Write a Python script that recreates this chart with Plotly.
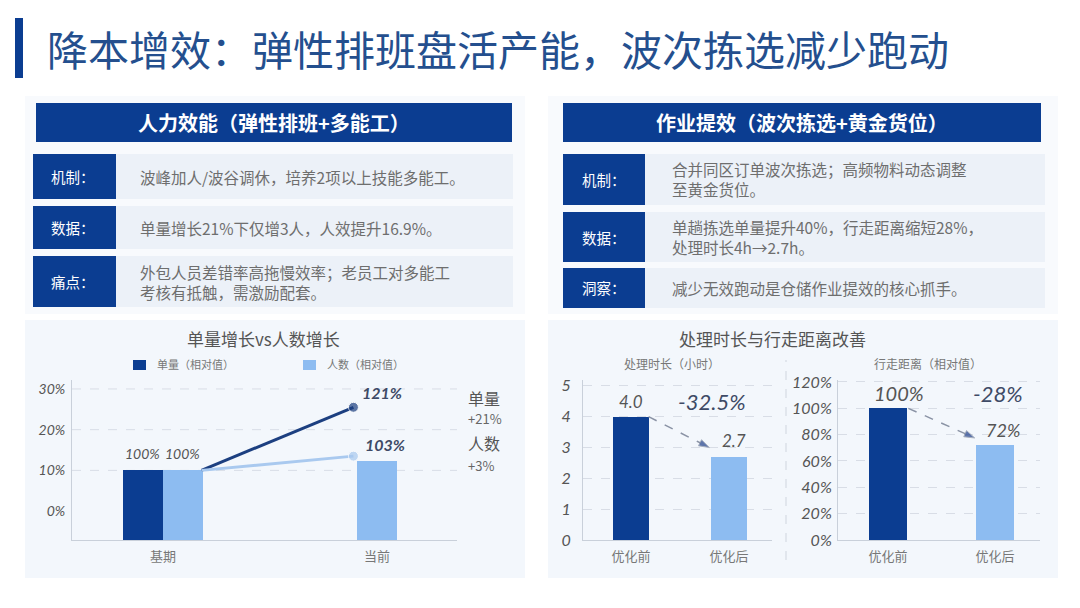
import plotly.graph_objects as go

W, H = 1080, 608
NAVY = '#0b3d91'
LIGHT = '#8dbcf1'
LINE_LIGHT = '#a9c9ef'
CJK = 'Noto Sans CJK SC'
HAND = 'Lato'
NUM = '#3e4a66'

# ------------------------------- data -------------------------------#
page_title = '降本增效：弹性排班盘活产能，波次拣选减少跑动'

left_header = '人力效能（弹性排班+多能工）'
left_tags = ['机制：', '数据：', '痛点：']
left_texts = ['波峰加人/波谷调休，培养2项以上技能多能工。',
              '单量增长21%下仅增3人，人效提升16.9%。',
              '外包人员差错率高拖慢效率；老员工对多能工<br>考核有抵触，需激励配套。']

right_header = '作业提效（波次拣选+黄金货位）'
right_tags = ['机制：', '数据：', '洞察：']
right_texts = ['合并同区订单波次拣选；高频物料动态调整<br>至黄金货位。',
               '单趟拣选单量提升40%，行走距离缩短28%，<br>处理时长4h→2.7h。',
               '减少无效跑动是仓储作业提效的核心抓手。']

# left chart (heights read on the drawn % scale)
periods = ['基期', '当前']
vol_bar = [10.0]
staff_bar = [10.0, 12.2]
line_x = [0.18, 0.89]
vol_line = [10.0, 25.5]
staff_line = [10.0, 13.5]
vol_pct = [100, 121]
staff_pct = [100, 103]
left_ticks = [0, 10, 20, 30]
left_grid = [10, 20, 30]
left_floor = -7.1

# right charts
stages = ['优化前', '优化后']
hours = [4.0, 2.7]
distance = [100, 72]
hour_ticks = [0, 1, 2, 3, 4, 5]
dist_ticks = [0, 20, 40, 60, 80, 100, 120]
hours_arrow_x = [0.18, 0.80]
hours_arrow_y = [4.0, 3.0]
dist_arrow_x = [0.19, 0.81]
dist_arrow_y = [100, 77.5]


def X(p):
    return p / W


def Y(p):
    return 1 - p / H


shapes = []
annotations = []


def rect(x0, y0, x1, y1, color):
    shapes.append(dict(type='rect', xref='paper', yref='paper',
                       x0=X(x0), x1=X(x1), y0=Y(y1), y1=Y(y0),
                       fillcolor=color, line_width=0, layer='below'))


def text(x, y, s, size, color, anchor='center', bold=False, family=CJK,
         italic=False, xref='paper', yref='paper', xshift=0, yshift=0):
    if xref == 'paper':
        x = X(x)
    if yref == 'paper':
        y = Y(y)
    annotations.append(dict(xref=xref, yref=yref, x=x, y=y, text=s, showarrow=False,
                            xanchor=anchor, yanchor='middle', align='left',
                            xshift=xshift, yshift=yshift,
                            font=dict(family=family, size=size, color=color,
                                      weight='bold' if bold else 'normal',
                                      style='italic' if italic else 'normal')))


# ------------------------------- page frame -------------------------------#
rect(15, 18, 23, 78, NAVY)
text(45, 48, page_title, 41, '#244f8e', anchor='left')

rect(25, 96, 525, 314, '#f8fafd')
rect(25, 320, 525, 578, '#f3f7fc')
rect(548, 96, 1058, 314, '#f8fafd')
rect(548, 320, 1058, 578, '#f3f7fc')

# text blocks
rect(36, 103, 512, 142, NAVY)
text(274, 122, left_header, 20, 'white', bold=True)
left_rows = [(154, 199), (206, 249), (256, 307)]
for (y0, y1), tag, s in zip(left_rows, left_tags, left_texts):
    rect(33, y0, 116, y1, NAVY)
    rect(116, y0, 513, y1, '#ecf1f8')
    text(49, (y0 + y1) / 2, tag, 14.5, 'white', anchor='left')
    text(138, (y0 + y1) / 2, s, 15.5, '#6e6e6e', anchor='left')

rect(563, 103, 1041, 142, NAVY)
text(802, 122, right_header, 20, 'white', bold=True)
right_rows = [(154, 205), (212, 262), (268, 308)]
for (y0, y1), tag, s in zip(right_rows, right_tags, right_texts):
    rect(563, y0, 645, y1, NAVY)
    rect(645, y0, 1045, y1, '#ecf1f8')
    text(580, (y0 + y1) / 2, tag, 14.5, 'white', anchor='left')
    text(670, (y0 + y1) / 2, s, 15.5, '#6e6e6e', anchor='left')

# ------------------------------- left chart -------------------------------#
text(263, 338, '单量增长vs人数增长', 17, '#555555')
rect(133, 360, 146, 370, NAVY)
text(155, 364, '单量（相对值）', 11, '#777777', anchor='left')
rect(303, 360, 316, 370, LIGHT)
text(325, 364, '人数（相对值）', 11, '#777777', anchor='left')

for g in left_grid:
    shapes.append(dict(type='line', xref='x domain', yref='y', x0=0, x1=1, y0=g, y1=g,
                       line=dict(color='#d8dde6', width=1, dash='dash'), layer='below'))

fig = go.Figure()
fig.add_trace(go.Bar(x=[0], y=[v - left_floor for v in vol_bar], base=left_floor,
                     width=0.187, offset=-0.187, marker_color=NAVY, marker_line_width=0,
                     xaxis='x', yaxis='y'))
fig.add_trace(go.Bar(x=[0, 1], y=[v - left_floor for v in staff_bar], base=left_floor,
                     width=0.187, offset=[0, -0.0935], marker_color=LIGHT, marker_line_width=0,
                     xaxis='x', yaxis='y'))
fig.add_trace(go.Scatter(x=line_x, y=vol_line, mode='lines+markers',
                         line=dict(color='#1c3f80', width=3),
                         marker=dict(size=[0, 10], color='#1c3f80'), xaxis='x', yaxis='y'))
fig.add_trace(go.Scatter(x=line_x, y=staff_line, mode='lines+markers',
                         line=dict(color=LINE_LIGHT, width=3),
                         marker=dict(size=[0, 10], color=LINE_LIGHT), xaxis='x', yaxis='y'))

text(-0.0935, vol_bar[0], f'{vol_pct[0]}%', 14, '#555555', family=HAND, italic=True,
     xref='x', yref='y', yshift=17)
text(0.0935, staff_bar[0], f'{staff_pct[0]}%', 14, '#555555', family=HAND, italic=True,
     xref='x', yref='y', yshift=17)
text(line_x[1], vol_line[1], f'{vol_pct[1]}%', 16, NUM, family=HAND, italic=True, bold=True,
     xref='x', yref='y', xshift=29, yshift=15)
text(1, staff_bar[1], f'{staff_pct[1]}%', 16, NUM, family=HAND, italic=True, bold=True,
     xref='x', yref='y', xshift=8, yshift=17)

text(466, 398, '单量', 16, '#555555', anchor='left')
text(466, 418, f'+{vol_pct[1] - vol_pct[0]}%', 13, '#666666', anchor='left')
text(466, 443, '人数', 16, '#555555', anchor='left')
text(466, 465, f'+{staff_pct[1] - staff_pct[0]}%', 13, '#666666', anchor='left')

# ------------------------------- right charts -------------------------------#
text(772, 338, '处理时长与行走距离改善', 17, '#555555')
text(672, 363, '处理时长（小时）', 12, '#777777')
text(928, 363, '行走距离（相对值）', 12, '#777777')
shapes.append(dict(type='line', xref='paper', yref='paper', x0=X(786), x1=X(786),
                   y0=Y(560), y1=Y(360), line=dict(color='#cfd5de', width=1, dash='dash')))

fig.add_trace(go.Bar(x=[0, 1], y=hours, width=0.37, marker_color=[NAVY, LIGHT],
                     marker_line_width=0, xaxis='x2', yaxis='y2'))
fig.add_trace(go.Scatter(x=hours_arrow_x, y=hours_arrow_y, mode='lines+markers',
                         line=dict(color='#8a93a5', width=1.5, dash='dash'),
                         marker=dict(symbol=['circle', 'arrow'], size=[0, 11], color='#1f3f8a',
                                     angleref='previous'),
                         xaxis='x2', yaxis='y2'))
fig.add_trace(go.Bar(x=[0, 1], y=distance, width=0.355, marker_color=[NAVY, LIGHT],
                     marker_line_width=0, xaxis='x3', yaxis='y3'))
fig.add_trace(go.Scatter(x=dist_arrow_x, y=dist_arrow_y, mode='lines+markers',
                         line=dict(color='#8a93a5', width=1.5, dash='dash'),
                         marker=dict(symbol=['circle', 'arrow'], size=[0, 11], color='#1f3f8a',
                                     angleref='previous'),
                         xaxis='x3', yaxis='y3'))

hours_change = (hours[1] - hours[0]) / hours[0] * 100
dist_change = (distance[1] - distance[0]) / distance[0] * 100
text(0, hours[0], f'{hours[0]:.1f}', 17, '#555555', family=HAND, italic=True,
     xref='x2', yref='y2', yshift=15)
text(1, hours[1], f'{hours[1]:.1f}', 17, '#555555', family=HAND, italic=True,
     xref='x2', yref='y2', xshift=5, yshift=16)
text(0.83, 4.48, f'{hours_change:.1f}%', 22, NUM, family=HAND, italic=True,
     xref='x2', yref='y2')
text(0, distance[0], f'{distance[0]}%', 20, '#555555', family=HAND, italic=True,
     xref='x3', yref='y3', xshift=11, yshift=15)
text(1, distance[1], f'{distance[1]}%', 18, '#555555', family=HAND, italic=True,
     xref='x3', yref='y3', xshift=8, yshift=15)
text(1.03, 111.6, f'{dist_change:.0f}%', 22, NUM, family=HAND, italic=True,
     xref='x3', yref='y3')

# ------------------------------- axes -------------------------------#
axis_line = '#c9d0da'
cat_font = dict(family=CJK, size=13, color='#777777')
num_font = dict(family=HAND, size=15, color='#555555', style='italic')
ydom = [Y(540), Y(380)]

fig.update_layout(
    width=W, height=H, autosize=False,
    margin=dict(l=0, r=0, t=0, b=0, pad=0, autoexpand=False),
    paper_bgcolor='white', plot_bgcolor='rgba(0,0,0,0)',
    showlegend=False, barmode='overlay', bargap=0,
    shapes=shapes, annotations=annotations,
    xaxis=dict(domain=[X(72), X(457)], range=[-0.425, 1.374], tickvals=[0, 1],
               ticktext=periods, showline=True, linecolor=axis_line, showgrid=False,
               zeroline=False, tickfont=cat_font, ticklabelstandoff=4, anchor='y',
               automargin=False),
    yaxis=dict(domain=ydom, range=[left_floor, 32.2], tickvals=left_ticks,
               ticktext=[f'{v}%' for v in left_ticks], showline=True, linecolor=axis_line,
               showgrid=False, zeroline=False, tickfont=dict(num_font, size=14),
               ticklabelstandoff=3, anchor='x', automargin=False),
    xaxis2=dict(domain=[X(583), X(772)], range=[-0.49, 1.44], tickvals=[0, 1],
                ticktext=stages, showline=True, linecolor=axis_line, showgrid=False,
                zeroline=False, tickfont=cat_font, ticklabelstandoff=4, anchor='y2',
                automargin=False),
    yaxis2=dict(domain=ydom, range=[0, 5.19], tickvals=hour_ticks, showline=True,
                linecolor=axis_line, showgrid=True, gridcolor='#d8dde6', griddash='dash',
                zeroline=False, tickfont=dict(num_font, size=16), ticklabelstandoff=8,
                anchor='x2', automargin=False),
    xaxis3=dict(domain=[X(838), X(1040)], range=[-0.467, 1.42], tickvals=[0, 1],
                ticktext=stages, showline=True, linecolor=axis_line, showgrid=False,
                zeroline=False, tickfont=cat_font, ticklabelstandoff=4, anchor='y3',
                automargin=False),
    yaxis3=dict(domain=ydom, range=[0, 121.5], tickvals=dist_ticks,
                ticktext=[f'{v}%' for v in dist_ticks], showline=True,
                linecolor=axis_line, showgrid=True, gridcolor='#d8dde6', griddash='dash',
                zeroline=False, tickfont=dict(num_font, size=16), ticklabelstandoff=2,
                anchor='x3', automargin=False),
)

fig.write_html('out.html', config={'displayModeBar': False},
               post_script="document.body.style.margin='0';")
